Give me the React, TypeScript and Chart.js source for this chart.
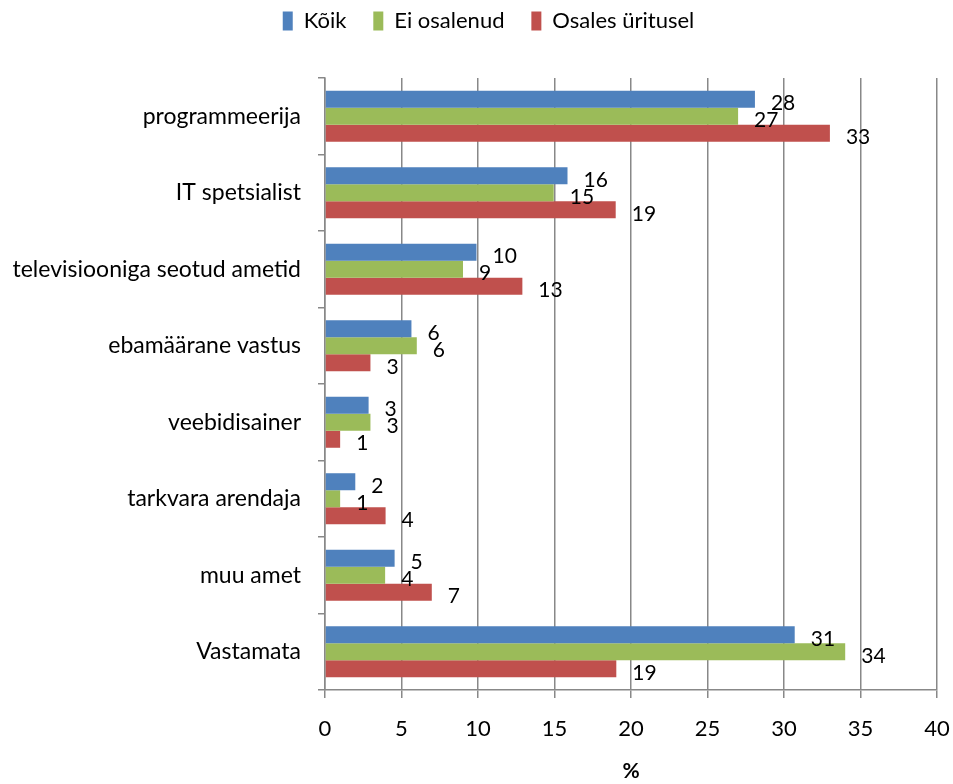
import React, { useEffect, useRef } from 'react';
import { Chart, registerables } from 'chart.js';

Chart.register(...registerables);

const categories = [
  'programmeerija',
  'IT spetsialist',
  'televisiooniga seotud ametid',
  'ebamäärane vastus',
  'veebidisainer',
  'tarkvara arendaja',
  'muu amet',
  'Vastamata',
];
const seriesNames = ['Kõik', 'Ei osalenud', 'Osales üritusel'];
const koik = [28.1, 15.85, 9.9, 5.65, 2.85, 1.98, 4.55, 30.7];
const eiOsalenud = [27.0, 14.95, 9.02, 6.0, 2.97, 0.99, 3.93, 34.0];
const osalesUritusel = [33.0, 19.0, 12.9, 2.97, 0.99, 3.96, 6.98, 19.04];
const seriesColors = ['#4F81BD', '#9BBB59', '#C0504D'];
const xMin = 0;
const xMax = 40;
const xStep = 5;
const xTitle = '%';

const FONT = 'Lato';

const valueLabels = {
  id: 'valueLabels',
  afterDatasetsDraw(chart: any) {
    const ctx = chart.ctx;
    ctx.save();
    ctx.font = `21px ${FONT}`;
    ctx.fillStyle = '#000';
    ctx.textAlign = 'left';
    ctx.textBaseline = 'middle';
    chart.data.datasets.forEach((ds: any, i: number) => {
      const meta = chart.getDatasetMeta(i);
      meta.data.forEach((el: any, j: number) => {
        const v = ds.data[j];
        ctx.fillText(String(Math.round(v)), el.x + 16, el.y + 4);
      });
    });
    ctx.restore();
  },
};

const legendMargin = {
  id: 'legendMargin',
  beforeInit(chart: any) {
    if (!chart.legend) return;
    const origFit = chart.legend.fit;
    chart.legend.fit = function () {
      origFit.call(this);
      this.height += 36;
    };
  },
  afterLayout(chart: any) {
    if (chart.legend) chart.legend.left += 40;
  },
};

export default function App() {
  const ref = useRef<HTMLCanvasElement | null>(null);
  useEffect(() => {
    document.body.style.margin = '0';
    const canvas = ref.current;
    if (!canvas) return;
    const seriesData = [koik, eiOsalenud, osalesUritusel];
    const chart = new Chart(canvas, {
      type: 'bar',
      data: {
        labels: categories,
        datasets: seriesNames.map((name, i) => ({
          label: name,
          data: seriesData[i],
          backgroundColor: seriesColors[i],
          borderWidth: 0,
          categoryPercentage: 0.667,
          barPercentage: 1,
        })),
      },
      plugins: [legendMargin, valueLabels],
      options: {
        indexAxis: 'y',
        animation: false,
        responsive: false,
        devicePixelRatio: 1,
        layout: { padding: { left: 0, right: 16, top: 0, bottom: 0 } },
        plugins: {
          tooltip: { enabled: false },
          legend: {
            position: 'top',
            align: 'center',
            labels: {
              boxWidth: 10,
              boxHeight: 19,
              padding: 10,
              color: '#000',
              font: { family: FONT, size: 22 },
              generateLabels(chart: any) {
                const items = Chart.defaults.plugins.legend.labels.generateLabels(chart);
                return items.map((it: any, idx: number) => ({
                  ...it,
                  text: idx < items.length - 1 ? it.text + '   ' : it.text,
                  lineWidth: 0,
                }));
              },
            },
          },
        },
        scales: {
          y: {
            type: 'category',
            grid: {
              drawOnChartArea: false,
              drawTicks: true,
              tickLength: 7,
              color: '#888',
              lineWidth: 1.5,
              offset: true,
            },
            border: { color: '#888', width: 1.5 },
            ticks: {
              color: '#000',
              font: { family: FONT, size: 23 },
              padding: 17,
            },
            afterFit(scale: any) {
              scale.width = 325;
            },
          },
          x: {
            type: 'linear',
            min: xMin,
            max: xMax,
            grid: {
              color: '#888',
              lineWidth: 1.5,
              tickLength: 8,
            },
            border: { color: '#888', width: 1.5 },
            ticks: {
              stepSize: xStep,
              color: '#000',
              font: { family: FONT, size: 22 },
              padding: 18,
            },
            title: {
              display: true,
              text: xTitle,
              color: '#000',
              font: { family: FONT, size: 21, weight: 'bold' },
              padding: { top: 10, bottom: 0 },
            },
            afterFit(scale: any) {
              scale.height = 94;
              scale.paddingLeft = 0;
              scale.paddingRight = 0;
            },
          },
        },
      },
    } as any);
    return () => chart.destroy();
  }, []);
  return (
    <div style={{ width: 953, height: 784 }}>
      <canvas ref={ref} width={953} height={784} style={{ width: 953, height: 784, display: 'block' }} />
    </div>
  );
}
